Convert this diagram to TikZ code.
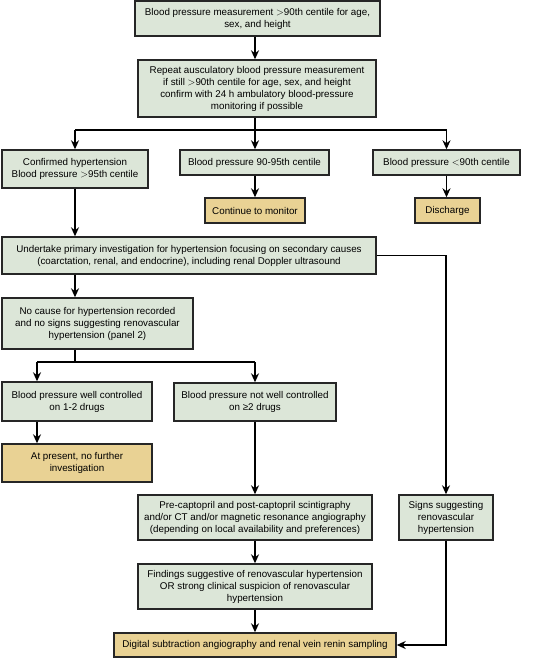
\documentclass[tikz,border=0pt]{standalone}
\usepackage{fontspec}
\setmainfont{Liberation Sans}
\usetikzlibrary{arrows.meta, positioning}
\definecolor{boxgreen}{HTML}{DCE6D8}
\definecolor{boxtan}{HTML}{E9D294}

\begin{document}
\begin{tikzpicture}[
  x=1pt, y=-1pt,
  every node/.style={font=\fontsize{9.8}{12}\selectfont},
  box/.style={draw=black!85, line width=1.4pt, fill=boxgreen, align=center, inner sep=2pt},
  endbox/.style={box, fill=boxtan},
  arrow/.style={-{Stealth[length=9pt,width=8pt]}, line width=1.4pt},
  link/.style={line width=1.4pt}
]
\useasboundingbox (0,0) rectangle (557,658);

% Screening
\node[box, minimum width=245pt, minimum height=35pt] (measure) at (257.5,18.5) {Blood pressure measurement $>$90th centile for age,\\sex, and height};
\node[box, minimum width=238pt, minimum height=57pt] (repeat) at (257,88.5) {Repeat ausculatory blood pressure measurement\\if still $>$90th centile for age, sex, and height\\confirm with 24 h ambulatory blood-pressure\\monitoring if possible};

% Three outcomes
\node[box, minimum width=146pt, minimum height=38pt] (confirmed) at (75,169) {Confirmed hypertension\\Blood pressure $>$95th centile};
\node[box, minimum width=149pt, minimum height=25pt] (middle) at (254.5,162.5) {Blood pressure 90-95th centile};
\node[box, minimum width=147pt, minimum height=25pt] (normal) at (446.5,162.5) {Blood pressure $<$90th centile};
\node[endbox, minimum width=100pt, minimum height=25pt] (monitor) at (255,210.5) {Continue to monitor};
\node[endbox, minimum width=65pt, minimum height=25pt] (discharge) at (447.5,210.5) {Discharge};

% Investigation
\node[box, minimum width=374pt, minimum height=37pt] (primary) at (189,255.5) {Undertake primary investigation for hypertension focusing on secondary causes\\(coarctation, renal, and endocrine), including renal Doppler ultrasound};
\node[box, minimum width=191pt, minimum height=51pt] (nocause) at (97.5,323.5) {No cause for hypertension recorded\\and no signs suggesting renovascular\\hypertension (panel 2)};
\node[box, minimum width=150pt, minimum height=39pt] (wellctrl) at (77,401.5) {Blood pressure well controlled\\on 1-2 drugs};
\node[box, minimum width=162pt, minimum height=38pt] (poorctrl) at (255,402) {Blood pressure not well controlled\\on ≥2 drugs};
\node[endbox, minimum width=150pt, minimum height=38pt] (nofurther) at (77,463) {At present, no further\\investigation};

% Imaging
\node[box, minimum width=234pt, minimum height=45pt] (imaging) at (255,517.5) {Pre-captopril and post-captopril scintigraphy\\and/or CT and/or magnetic resonance angiography\\(depending on local availability and preferences)};
\node[box, minimum width=94pt, minimum height=45pt] (signs) at (446,517.5) {Signs suggesting\\renovascular\\hypertension};
\node[box, minimum width=234pt, minimum height=45pt] (findings) at (255,586.5) {Findings suggestive of renovascular hypertension\\OR strong clinical suspicion of renovascular\\hypertension};
\node[endbox, minimum width=282pt, minimum height=24pt] (dsa) at (255,645) {Digital subtraction angiography and renal vein renin sampling};

% Branch points
\coordinate (split1) at (255,130);
\coordinate (split2) at (75,362);
\coordinate (wellin) at (37,362);

% Arrows
\draw[arrow] (measure.south -| split1) -- (repeat.north -| split1);
\draw[link] (repeat.south -| split1) -- (split1);
\draw[link] (split1 -| confirmed) -- (split1 -| normal);
\draw[arrow] (split1 -| confirmed) -- (confirmed.north);
\draw[arrow] (split1) -- (middle.north -| split1);
\draw[arrow] (split1 -| normal) -- (normal.north);
\draw[arrow] (middle.south -| split1) -- (monitor.north -| split1);
\draw[arrow] (normal.south) -- (discharge.north -| normal.south);
\draw[arrow] (confirmed.south) -- (primary.north -| confirmed.south);
\draw[arrow] (primary.east) -| (signs.north);
\draw[arrow] (primary.south -| confirmed) -- (nocause.north -| confirmed);
\draw[link] (nocause.south -| split2) -- (split2);
\draw[link] (wellin) -- (split2 -| poorctrl);
\draw[arrow] (wellin) -- (wellctrl.north -| wellin);
\draw[arrow] (split2 -| poorctrl) -- (poorctrl.north);
\draw[arrow] (wellctrl.south -| wellin) -- (nofurther.north -| wellin);
\draw[arrow] (poorctrl.south) -- (imaging.north);
\draw[arrow] (imaging.south) -- (findings.north);
\draw[arrow] (findings.south) -- (dsa.north);
\draw[arrow] (signs.south) |- (dsa.east);

\end{tikzpicture}
\end{document}
